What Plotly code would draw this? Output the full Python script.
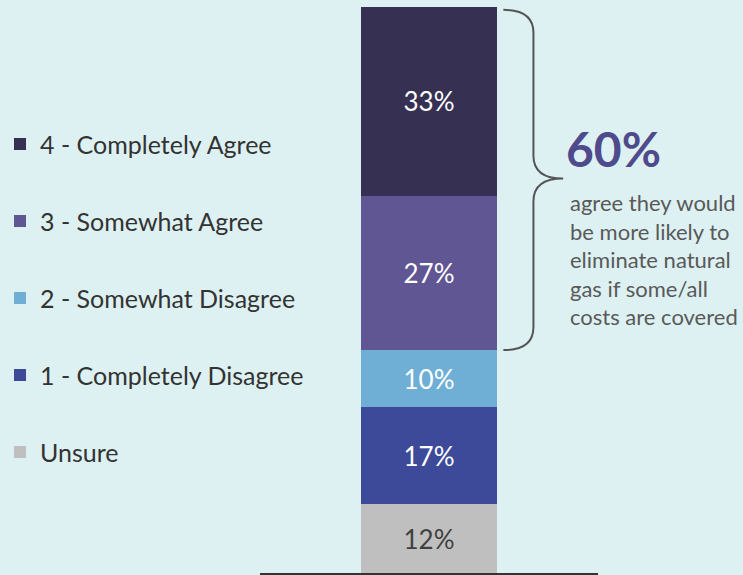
import plotly.graph_objects as go

# survey response shares (%), stacked bottom -> top
categories = ["Unsure", "1 - Completely Disagree", "2 - Somewhat Disagree",
              "3 - Somewhat Agree", "4 - Completely Agree"]
values = [12, 17, 10, 27, 33]
colors = ["#BFBFBF", "#3D4A9A", "#6FAED5", "#5F5693", "#363053"]
label_colors = ["#404040", "white", "white", "white", "white"]

agree_share = 60
agree_text = "agree they would<br>be more likely to<br>eliminate natural<br>gas if some/all<br>costs are covered"

bg = "#DDF1F2"
font_family = "Lato, 'Open Sans', sans-serif"

fig = go.Figure()
for i, (cat, val, col, lc) in enumerate(zip(categories, values, colors, label_colors)):
    fig.add_trace(go.Bar(
        x=["all"], y=[val], name=cat,
        marker=dict(color=col, line=dict(width=0)),
        width=0.404,
        text=[f"{val}%"], textposition="inside", insidetextanchor="middle",
        textangle=0, textfont=dict(color=lc, size=26, family=font_family),
        legendgroup=cat, legendrank=1000 - i,  # top segment listed first
    ))

total = sum(values)
agree_low = total - (values[3] + values[4])
mid = (total + agree_low) / 2

# curly brace next to the "agree" segments (data coords)
x0, x1, x2 = 0.220, 0.309, 0.397
top, bot = total - 0.5, agree_low
c = 4.0
brace = (f"M{x0},{top} Q{x1},{top} {x1},{top - c} "
         f"L{x1},{mid + c} Q{x1},{mid} {x2},{mid} "
         f"Q{x1},{mid} {x1},{mid - c} "
         f"L{x1},{bot + c} Q{x1},{bot} {x0},{bot}")
fig.add_shape(type="path", path=brace, xref="x", yref="y",
              line=dict(color="#555555", width=2))

fig.add_annotation(x=0.40, y=mid, xref="x", yref="y", xanchor="left", yanchor="bottom",
                   text=f"<b>{agree_share}%</b>", showarrow=False,
                   font=dict(size=48, color="#4F4A8B", family=font_family))
fig.add_annotation(x=0.41, y=mid - 1.5, xref="x", yref="y", xanchor="left", yanchor="top",
                   text=agree_text, showarrow=False, align="left",
                   font=dict(size=22, color="#595959", family=font_family))

fig.update_layout(
    barmode="stack",
    width=743, height=575,
    margin=dict(l=259, r=145, t=7, b=2),
    paper_bgcolor=bg, plot_bgcolor=bg,
    showlegend=True,
    legend=dict(x=-0.764, xanchor="left", y=0.798, yanchor="top",
                traceorder="grouped", tracegroupgap=41.5,
                font=dict(size=25, color="#333333", family=font_family),
                bgcolor="rgba(0,0,0,0)"),
    xaxis=dict(range=[-0.5, 0.5], showticklabels=False, showgrid=False, zeroline=False,
               showline=True, linewidth=2, linecolor="#333333", fixedrange=True),
    yaxis=dict(range=[0, total], visible=False, fixedrange=True),
    uniformtext=dict(minsize=26, mode="show"),
)

fig.write_html("out.html", config={"displayModeBar": False},
               post_script="document.body.style.margin='0';")
